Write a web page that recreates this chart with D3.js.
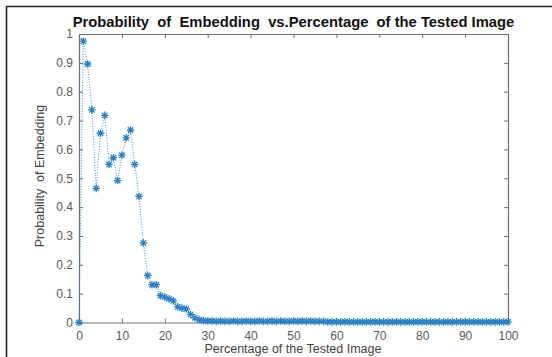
<!DOCTYPE html>
<html><head><meta charset="utf-8">
<script src="https://cdn.jsdelivr.net/npm/d3@7"></script>
<style>html,body{margin:0;padding:0;background:#fff;}svg{display:block;}</style>
</head><body>
<svg id="c" width="552" height="357"></svg>
<script>
// Data (percentage of tested image 0..100, probability of embedding)
const percentages = [
  0,1,2,3,4,5,6,7,8,9,10,11,12,13,14,15,16,17,18,19,20,
  21,22,23,24,25,26,27,28,29,30,31,32,33,34,35,36,37,38,39,40,
  41,42,43,44,45,46,47,48,49,50,51,52,53,54,55,56,57,58,59,60,
  61,62,63,64,65,66,67,68,69,70,71,72,73,74,75,76,77,78,79,80,
  81,82,83,84,85,86,87,88,89,90,91,92,93,94,95,96,97,98,99,100
];
const probabilities = [
  0.000,0.975,0.896,0.737,0.465,0.656,0.718,0.548,0.571,0.492,0.580,
  0.640,0.667,0.548,0.437,0.276,0.163,0.131,0.131,0.093,0.088,
  0.082,0.075,0.054,0.050,0.047,0.028,0.016,0.010,0.007,0.005,
  0.005,0.004,0.005,0.004,0.004,0.005,0.004,0.004,0.005,0.004,
  0.004,0.005,0.004,0.004,0.005,0.004,0.005,0.004,0.004,0.005,
  0.004,0.005,0.004,0.005,0.004,0.004,0.004,0.002,0.002,0.002,
  0.002,0.002,0.002,0.002,0.002,0.002,0.002,0.002,0.002,0.002,
  0.002,0.002,0.002,0.002,0.002,0.002,0.002,0.002,0.002,0.002,
  0.002,0.002,0.002,0.002,0.002,0.002,0.002,0.002,0.002,0.002,
  0.002,0.002,0.002,0.002,0.002,0.002,0.002,0.002,0.002,0.002
];
const xTicks = [0,10,20,30,40,50,60,70,80,90,100];
const yTicks = [0,0.1,0.2,0.3,0.4,0.5,0.6,0.7,0.8,0.9,1];
const titleText = "Probability  of  Embedding  vs.Percentage  of the Tested Image";
const xLabelText = "Percentage of the Tested Image";
const yLabelText = "Probability  of Embedding";

const svg = d3.select("#c");
const font = "'Liberation Sans', Arial, sans-serif";
const L = 79, R = 508, T = 34, B = 322.5;
const x = d3.scaleLinear().domain([0,100]).range([L,R]);
const y = d3.scaleLinear().domain([0,1]).range([B,T]);

// outer frame (top and left)
svg.append("line").attr("x1",6).attr("x2",552).attr("y1",6.5).attr("y2",6.5).attr("stroke","#222").attr("stroke-width",1.6);
svg.append("line").attr("x1",6.5).attr("x2",6.5).attr("y1",6).attr("y2",357).attr("stroke","#222").attr("stroke-width",1.6);

const axColor = "#6e6e6e";
const tickLen = 4;
// axes with inward ticks
const gB = svg.append("g").attr("transform",`translate(0,${B})`)
  .call(d3.axisBottom(x).tickValues(xTicks).tickSizeInner(-tickLen).tickSizeOuter(0).tickPadding(9).tickFormat(d3.format("d")));
const gT = svg.append("g").attr("transform",`translate(0,${T})`)
  .call(d3.axisTop(x).tickValues(xTicks).tickSizeInner(-tickLen).tickSizeOuter(0).tickFormat(""));
const gL = svg.append("g").attr("transform",`translate(${L},0)`)
  .call(d3.axisLeft(y).tickValues(yTicks).tickSizeInner(-tickLen).tickSizeOuter(0).tickPadding(6).tickFormat(d=> d===0?"0":d===1?"1":d3.format(".1f")(d)));
const gR = svg.append("g").attr("transform",`translate(${R},0)`)
  .call(d3.axisRight(y).tickValues(yTicks).tickSizeInner(-tickLen).tickSizeOuter(0).tickFormat(""));
[gB,gT,gL,gR].forEach(g=>{
  g.select(".domain").attr("stroke",axColor).attr("stroke-width",1.2);
  g.selectAll(".tick line").attr("stroke",axColor).attr("stroke-width",1);
  g.selectAll(".tick text").attr("fill","#5a5a5a").style("font-family",font).style("font-size","12px");
});

// dotted line
const line = d3.line().x((d,i)=>x(percentages[i])).y(d=>y(d));
svg.append("path").datum(probabilities).attr("d",line)
  .attr("fill","none").attr("stroke","#2f86c8").attr("stroke-width",0.9).attr("stroke-dasharray","1,1.6");

// asterisk markers
const r = 3.8, rd = r*0.72;
const mk = svg.append("g").attr("stroke","#2a82c6").attr("stroke-width",1.3).attr("fill","none");
probabilities.forEach((v,i)=>{
  const cx = x(percentages[i]), cy = y(v);
  mk.append("path").attr("d",
    `M${cx-r},${cy}L${cx+r},${cy}M${cx},${cy-r}L${cx},${cy+r}`+
    `M${cx-rd},${cy-rd}L${cx+rd},${cy+rd}M${cx-rd},${cy+rd}L${cx+rd},${cy-rd}`);
});

// title
const title = svg.append("text").attr("x",(L+R)/2).attr("y",27).attr("text-anchor","middle")
  .style("font-family",font).style("font-weight","bold").style("font-size","12px")
  .style("white-space","pre").attr("fill","#111").text(titleText);
const tw = title.node().getComputedTextLength();
title.style("font-size",(12*442/tw).toFixed(2)+"px");

// x label
svg.append("text").attr("x",293).attr("y",353).attr("text-anchor","middle")
  .style("font-family",font).style("font-size","12.5px").attr("fill","#444").text(xLabelText);
// y label
svg.append("text").attr("transform","translate(44,176) rotate(-90)").attr("text-anchor","middle")
  .style("font-family",font).style("font-size","12.5px").style("white-space","pre").attr("fill","#444").text(yLabelText);
</script>
</body></html>
